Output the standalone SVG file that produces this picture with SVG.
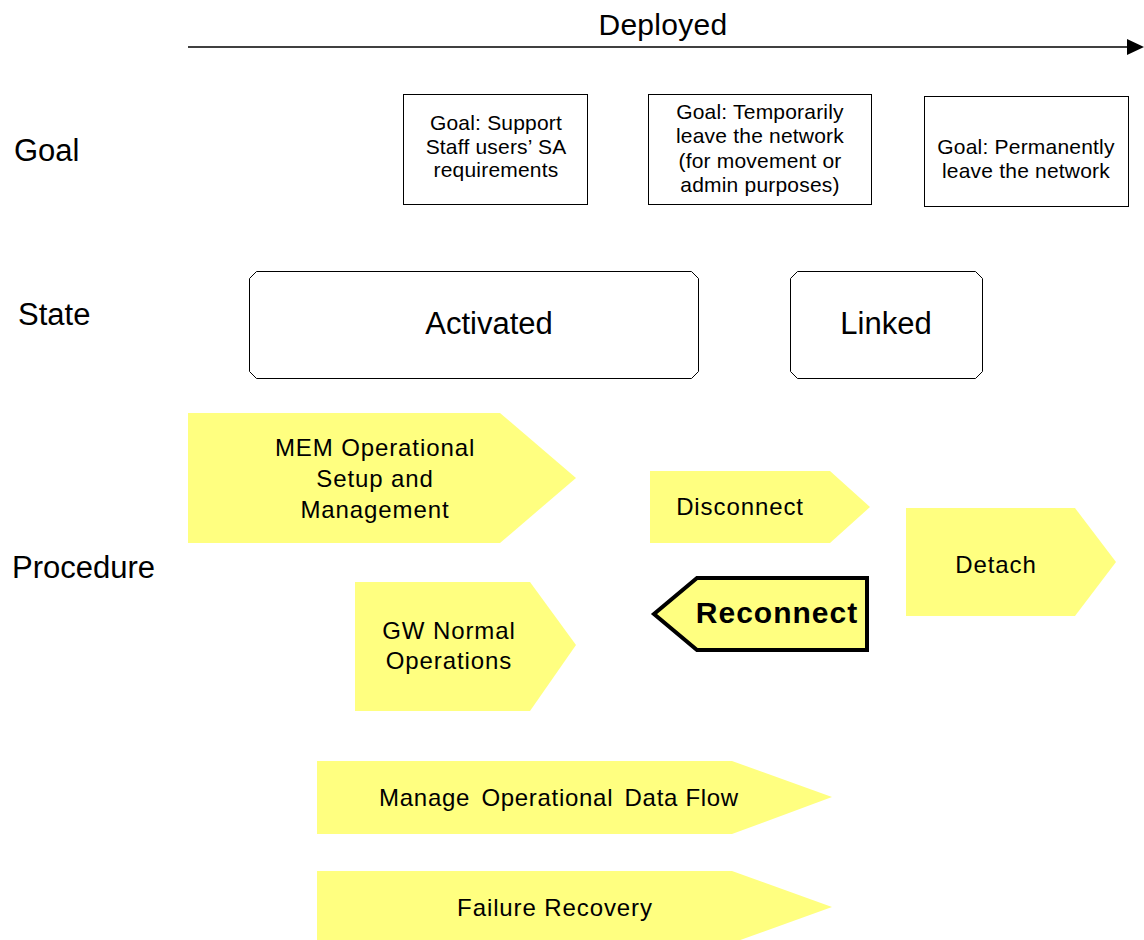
<svg xmlns="http://www.w3.org/2000/svg" width="1144" height="940" viewBox="0 0 1144 940">
<style>
text{font-family:"Liberation Sans",Arial,sans-serif;fill:#000}
.lbl{font-size:31px}
.goal rect{fill:#fff;stroke:#000;stroke-width:1}
.goal text{font-size:21px;letter-spacing:0.2px;text-anchor:middle}
.state path{fill:#fff;stroke:#000;stroke-width:1}
.state text{font-size:31px;text-anchor:middle}
.proc path{fill:#ffff80;stroke:none}
.proc text{font-size:24px;letter-spacing:0.9px;text-anchor:middle}
</style>
<rect width="1144" height="940" fill="#fff"/>
<g id="connectors">
<path d="M188,47 L1142,47" stroke="#000" stroke-width="1.5" fill="none"/>
<path d="M1127,39 L1144,47 L1127,55 z" fill="#000"/>
</g>
<text x="663" y="35" style="font-size:30px;letter-spacing:0.3px" text-anchor="middle">Deployed</text>
<text x="14" y="161" class="lbl">Goal</text>
<text x="18" y="325" class="lbl">State</text>
<text x="12" y="578" class="lbl">Procedure</text>
<g id="goal1" class="goal"><rect x="403.5" y="94.5" width="184" height="110"/><text x="496" y="130">Goal: Support</text><text x="496" y="154">Staff users’ SA</text><text x="496" y="177">requirements</text></g>
<g id="goal2" class="goal"><rect x="648.5" y="94.5" width="223" height="110"/><text x="760" y="119">Goal: Temporarily</text><text x="760" y="143">leave the network</text><text x="760" y="168">(for movement or</text><text x="760" y="192">admin purposes)</text></g>
<g id="goal3" class="goal"><rect x="924.5" y="96.5" width="204" height="110"/><text x="1026" y="154">Goal: Permanently</text><text x="1026" y="178">leave the network</text></g>
<g id="activated" class="state"><path d="M256.5,271.5 H691.5 L698.5,278.5 V371.5 L691.5,378.5 H256.5 L249.5,371.5 V278.5 z"/><text x="489" y="334">Activated</text></g>
<g id="linked" class="state"><path d="M797.5,271.5 H975.5 L982.5,278.5 V371.5 L975.5,378.5 H797.5 L790.5,371.5 V278.5 z"/><text x="886" y="334">Linked</text></g>
<g id="mem" class="proc"><path d="M188,413 H500 L576,478 L500,543 H188 z"/><text x="375" y="456">MEM Operational</text><text x="375" y="487">Setup and</text><text x="375" y="518">Management</text></g>
<g id="disconnect" class="proc"><path d="M650,471 H830 L870,507 L830,543 H650 z"/><text x="740" y="515">Disconnect</text></g>
<g id="detach" class="proc"><path d="M906,508 H1075 L1116,562 L1075,616 H906 z"/><text x="996" y="573">Detach</text></g>
<g id="reconnect" class="proc"><path d="M867,578 V650 H697 L654,614 L697,578 z" style="stroke:#000;stroke-width:4"/><text x="777" y="623" style="font-weight:bold;font-size:30px;letter-spacing:1px">Reconnect</text></g>
<g id="gw" class="proc"><path d="M355,582 H530 L576,645 L530,711 H355 z"/><text x="449" y="639">GW Normal</text><text x="449" y="669">Operations</text></g>
<g id="manage" class="proc"><path d="M317,761 H732 L832,797 L732,834 H317 z"/><text x="559" y="806" style="letter-spacing:0.7px">Manage <tspan dx="4">Operational</tspan> <tspan dx="4">Data Flow</tspan></text></g>
<g id="failure" class="proc"><path d="M317,871 H732 L832,907 L732,943 H317 z"/><text x="555" y="916">Failure Recovery</text></g>
</svg>
